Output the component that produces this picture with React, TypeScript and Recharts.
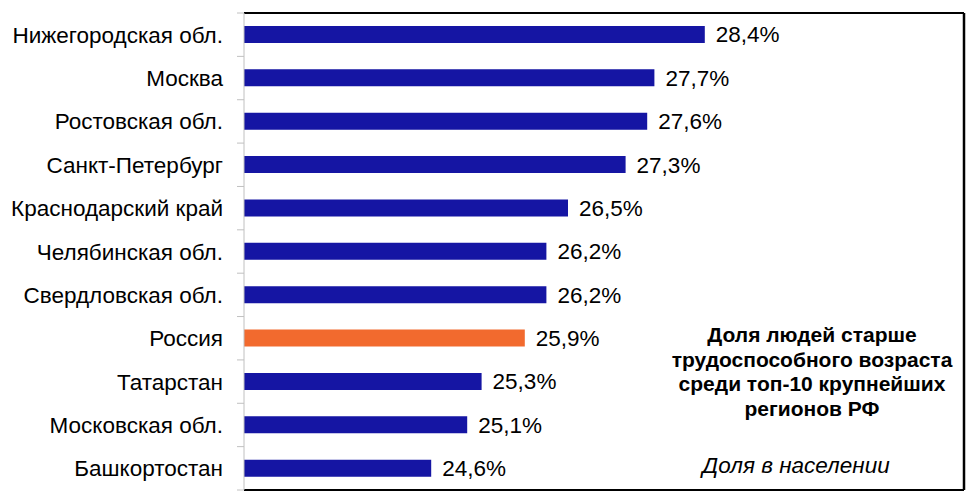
import React from 'react';
import { BarChart, Bar, XAxis, YAxis, Cell, LabelList, ReferenceLine } from 'recharts';

const regions = [
    'Нижегородская обл.',
    'Москва',
    'Ростовская обл.',
    'Санкт-Петербург',
    'Краснодарский край',
    'Челябинская обл.',
    'Свердловская обл.',
    'Россия',
    'Татарстан',
    'Московская обл.',
    'Башкортостан',
];
const shares = [28.4, 27.7, 27.6, 27.3, 26.5, 26.2, 26.2, 25.9, 25.3, 25.1, 24.6];
const highlighted = 'Россия';

const BLUE = '#1515A3';
const ORANGE = '#F26A2E';
const FONT = '"Liberation Sans", Arial, sans-serif';

const W = 974;
const H = 502;
const PLOT_LEFT = 244;
const PLOT_TOP = 13;
const PLOT_BOTTOM = 490;
const BAND = (PLOT_BOTTOM - PLOT_TOP) / regions.length;

const data = regions.map((name, i) => ({ name, value: shares[i] }));

// region name plus Excel-style tick marks between categories
const RegionTick = (props: any) => {
    const { y, payload, index } = props;
    const top = y - BAND / 2;
    return (
        <g>
            <line x1={PLOT_LEFT - 7} x2={PLOT_LEFT} y1={top} y2={top} stroke="#c0c0c0" />
            {index === regions.length - 1 && (
                <line x1={PLOT_LEFT - 7} x2={PLOT_LEFT} y1={top + BAND} y2={top + BAND} stroke="#c0c0c0" />
            )}
            <text x={PLOT_LEFT - 21} y={y} dy={8} textAnchor="end" fill="#000" fontSize={22.5} fontFamily={FONT}>
                {payload.value}
            </text>
        </g>
    );
};

const fmt = (v: number) => v.toFixed(1).replace('.', ',') + '%';

export default function App() {
    return (
        <div style={{ position: 'absolute', left: 0, top: 0, width: W, height: H, background: '#fff' }}>
            <BarChart
                width={W}
                height={H}
                data={data}
                layout="vertical"
                margin={{ top: PLOT_TOP - 1, right: W - 964, bottom: H - PLOT_BOTTOM - 1, left: 0 }}
            >
                <XAxis
                    type="number"
                    domain={[22, 32]}
                    allowDataOverflow
                    tick={false}
                    tickLine={false}
                    height={1}
                    axisLine={{ stroke: '#000', strokeWidth: 2 }}
                />
                <XAxis
                    xAxisId="top"
                    orientation="top"
                    type="number"
                    domain={[22, 32]}
                    allowDataOverflow
                    tick={false}
                    tickLine={false}
                    height={1}
                    axisLine={{ stroke: '#000', strokeWidth: 2 }}
                />
                <YAxis
                    type="category"
                    dataKey="name"
                    width={PLOT_LEFT}
                    tickLine={false}
                    axisLine={{ stroke: '#c0c0c0' }}
                    tick={<RegionTick />}
                    interval={0}
                />
                <ReferenceLine x={32} stroke="#000" strokeWidth={2.5} />
                <Bar dataKey="value" barSize={17} isAnimationActive={false}>
                    {data.map((d, i) => (
                        <Cell key={`cell-${i}`} fill={d.name === highlighted ? ORANGE : BLUE} />
                    ))}
                    <LabelList
                        dataKey="value"
                        position="right"
                        offset={11}
                        formatter={(v: any) => fmt(Number(v))}
                        style={{ fill: '#000', fontSize: 22.5, fontFamily: FONT }}
                    />
                </Bar>
            </BarChart>
            <div
                style={{
                    position: 'absolute',
                    left: 662,
                    top: 323,
                    width: 300,
                    textAlign: 'center',
                    fontFamily: FONT,
                    color: '#000',
                }}
            >
                <div style={{ fontWeight: 'bold', fontSize: 21, lineHeight: '24.5px' }}>
                    Доля людей старше
                    <br />
                    трудоспособного возраста
                    <br />
                    среди топ-10 крупнейших
                    <br />
                    регионов РФ
                </div>
                <div style={{ fontStyle: 'italic', fontSize: 22.5, lineHeight: '26px', marginTop: 32, marginLeft: -32 }}>
                    Доля в населении
                </div>
            </div>
        </div>
    );
}
